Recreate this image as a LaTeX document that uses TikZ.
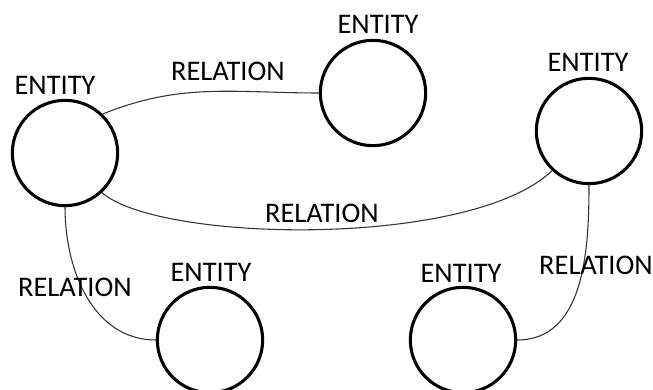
\documentclass[tikz,border=0pt]{standalone}
\usepackage{fontspec}
\setmainfont{Carlito}
\usepackage{tikz}

\begin{document}
\begin{tikzpicture}[x = .75pt, y = .75pt,
    entity/.style = {draw, circle, line width = 2.3pt, minimum size = 79pt, inner sep = 0pt},
    link/.style = {draw = black!80, line width = .8pt},
    lbl/.style = {inner sep = 0pt, font = \fontsize{21.3}{25}\selectfont}]
  \useasboundingbox (0, 0) rectangle (653, 389);
  \node[entity] (e1) at (65, 236) {};
  \node[entity] (e2) at (373, 296) {};
  \node[entity] (e3) at (589, 258) {};
  \node[entity] (e4) at (210, 49) {};
  \node[entity] (e5) at (463, 49) {};
  \node[lbl] (t1) at (55, 304) {ENTITY};
  \node[lbl] (t2) at (378, 365) {ENTITY};
  \node[lbl] (t3) at (588, 327) {ENTITY};
  \node[lbl] (t4) at (211, 117) {ENTITY};
  \node[lbl] (t5) at (461, 116) {ENTITY};
  \draw [link] (e1.46) to [out = 22, in = 180] (e2.west);
  \draw [link] (e1.-47) .. controls +(57, -50) and +(-81, -78) .. (e3.-133);
  \draw [link] (e1.south) to [out = -90, in = 180] (e4.west);
  \draw [link] (e3.south) to [out = -90, in = 0] (e5.east);
  \node[lbl] (r1) at (228, 318) {RELATION};
  \node[lbl] (r2) at (322, 176) {RELATION};
  \node[lbl] (r3) at (75, 102) {RELATION};
  \node[lbl] (r4) at (596, 124) {RELATION};
\end{tikzpicture}
\end{document}
